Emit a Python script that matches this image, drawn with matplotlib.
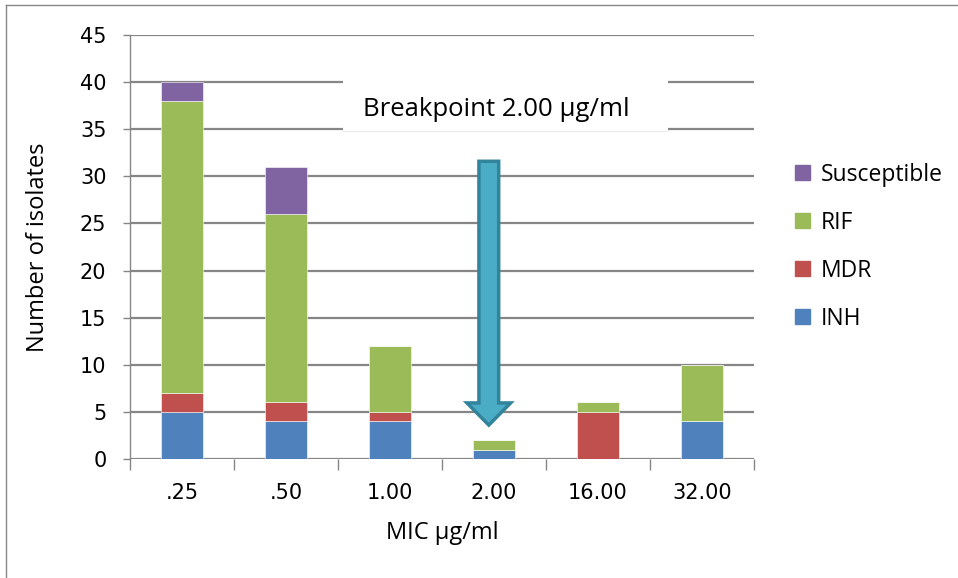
import matplotlib
matplotlib.use('Agg')
import matplotlib.pyplot as plt
from matplotlib.patches import FancyArrow, Rectangle
from matplotlib.lines import Line2D
import numpy as np

categories = ['.25', '.50', '1.00', '2.00', '16.00', '32.00']
inh = [5, 4, 4, 1, 0, 4]
mdr = [2, 2, 1, 0, 5, 0]
rif = [31, 20, 7, 1, 1, 6]
susceptible = [2, 5, 0, 0, 0, 0]

series = [('INH', inh, '#4F81BD'),
          ('MDR', mdr, '#C0504D'),
          ('RIF', rif, '#9BBB59'),
          ('Susceptible', susceptible, '#8064A2')]

ticks_font = ['DejaVu Sans']
body = ['Open Sans', 'DejaVu Sans']

fig = plt.figure(figsize=(9.58, 5.78), dpi=100)
ax = fig.add_axes([130 / 958, 1 - 459 / 578, 624 / 958, 424 / 578])

x = np.arange(len(categories))
bottom = np.zeros(len(categories))
handles = []
for name, vals, color in series:
    vals = np.array(vals, dtype=float)
    ax.bar(x, vals, width=0.4, bottom=bottom, color=color,
           edgecolor='white', linewidth=0.4, zorder=3)
    bottom += vals
    handles.append(Rectangle((0, 0), 1, 1, color=color))

ax.set_xlim(-0.5, len(categories) - 0.5)
ax.set_ylim(0, 45)
ax.set_yticks(range(0, 46, 5))
ax.yaxis.grid(True, color='#868686', linewidth=1.6, zorder=0)
ax.set_axisbelow(True)

for side in ['top', 'right', 'bottom']:
    ax.spines[side].set_visible(False)
ax.spines['left'].set_color('#868686')
ax.spines['left'].set_linewidth(1.0)

ax.set_xticks(x)
ax.set_xticklabels(categories, fontfamily=ticks_font, fontsize=15)
ax.tick_params(axis='x', length=0, pad=17)
ax.set_xticks(np.arange(-0.5, len(categories)), minor=True)
ax.tick_params(axis='x', which='minor', length=8, color='#868686', width=1)
ax.tick_params(axis='y', length=5, color='#868686', width=1, pad=12)
for lbl in ax.get_yticklabels():
    lbl.set_fontfamily(ticks_font)
    lbl.set_fontsize(15)

ax.set_ylabel('Number of isolates', fontfamily=body, fontsize=17)
ax.yaxis.set_label_coords(-80 / 624, 0.5)
ax.set_xlabel('MIC µg/ml', fontfamily=body, fontsize=17, labelpad=13)

# breakpoint label box
box = Rectangle((343 / 958, 1 - 131 / 578), 325 / 958, 62 / 578,
                transform=fig.transFigure, facecolor='white',
                edgecolor='none', zorder=5)
fig.patches.append(box)
fig.add_artist(Line2D([343 / 958, 668 / 958], [1 - 131 / 578, 1 - 131 / 578],
                      transform=fig.transFigure, color='#ececec',
                      linewidth=0.8, zorder=6))
fig.text(363 / 958, 1 - 110 / 578, 'Breakpoint 2.00 µg/ml',
         fontfamily=body, fontsize=18.5, va='center', ha='left', zorder=7)

# arrow pointing to the breakpoint bar
arrow = FancyArrow(2.95, 31.6, 0, -28.0, width=0.19, head_width=0.42,
                   head_length=2.35, length_includes_head=True,
                   facecolor='#4BACC6', edgecolor='#31849B', linewidth=2.5,
                   zorder=6)
ax.add_patch(arrow)

leg = fig.legend(handles[::-1], [s[0] for s in series][::-1],
                 loc='upper left', bbox_to_anchor=(774 / 958, 1 - 142 / 578),
                 frameon=False, handlelength=0.65, handleheight=0.65,
                 handletextpad=0.5, labelspacing=1.05,
                 prop={'family': body, 'size': 16.5})

# outer chart border (top and left)
fig.add_artist(Line2D([6 / 958, 1], [1 - 5 / 578, 1 - 5 / 578],
                      transform=fig.transFigure, color='#868686', linewidth=1))
fig.add_artist(Line2D([6 / 958, 6 / 958], [0, 1 - 5 / 578],
                      transform=fig.transFigure, color='#868686', linewidth=1))

fig.savefig('out.png', dpi=100)
